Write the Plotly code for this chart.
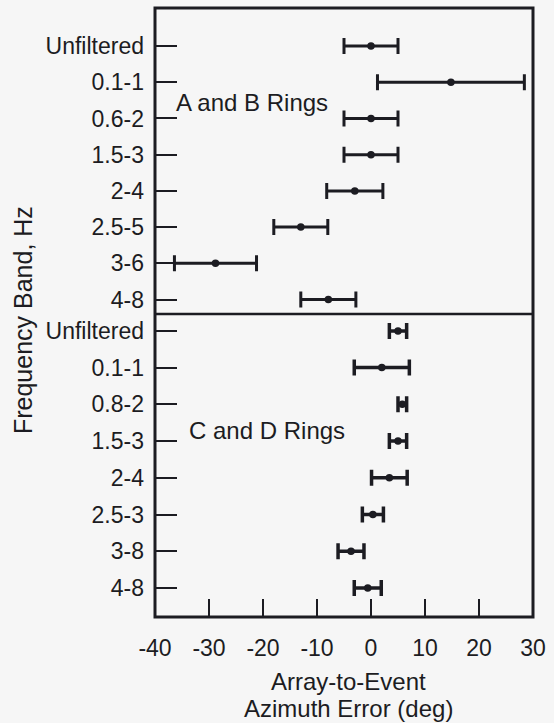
import plotly.graph_objects as go

# ---- data ----
top_labels = ["Unfiltered", "0.1-1", "0.6-2", "1.5-3", "2-4", "2.5-5", "3-6", "4-8"]
top_mean = [0, 14.8, 0, 0, -3, -13, -28.8, -7.9]
top_err = [5, 13.6, 5, 5, 5.2, 5, 7.6, 5.1]

bottom_labels = ["Unfiltered", "0.1-1", "0.8-2", "1.5-3", "2-4", "2.5-3", "3-8", "4-8"]
bottom_mean = [5, 2, 5.8, 5, 3.4, 0.35, -3.7, -0.6]
bottom_err = [1.6, 5.1, 0.8, 1.6, 3.3, 1.95, 2.4, 2.5]

x_ticks = [-40, -30, -20, -10, 0, 10, 20, 30]

INK = "#1c1c22"
BG = "#f6f6f6"
FONT = "Liberation Sans, Arial, Helvetica, sans-serif"

fig = go.Figure()

fig.add_trace(go.Scatter(
    x=top_mean, y=top_labels, xaxis="x", yaxis="y2", mode="markers",
    marker=dict(color=INK, size=7.5),
    error_x=dict(type="data", array=top_err, visible=True, color=INK, thickness=3, width=8),
    showlegend=False, cliponaxis=False,
))
fig.add_trace(go.Scatter(
    x=bottom_mean, y=bottom_labels, xaxis="x", yaxis="y", mode="markers",
    marker=dict(color=INK, size=7.5),
    error_x=dict(type="data", array=bottom_err, visible=True, color=INK, thickness=3.5, width=8),
    showlegend=False, cliponaxis=False,
))

split = (617 - 314) / 609.0

fig.update_layout(
    width=554, height=723,
    margin=dict(l=155, r=18, t=8, b=106),
    paper_bgcolor=BG, plot_bgcolor=BG,
    font=dict(family=FONT, size=23, color=INK),
    xaxis=dict(
        range=[-40, 30], tickvals=x_ticks, ticktext=[str(v) for v in x_ticks],
        ticks="inside", ticklen=18, tickwidth=2, tickcolor=INK,
        showgrid=False, zeroline=False, showline=False,
        anchor="y", ticklabelstandoff=15,
        tickfont=dict(size=23, color=INK),
    ),
    yaxis=dict(
        domain=[0, split], type="category",
        categoryorder="array", categoryarray=bottom_labels,
        range=[7.79, -0.46],
        ticks="inside", ticklen=22, tickwidth=1.5, tickcolor=INK,
        showgrid=False, zeroline=False, showline=False,
        anchor="x", ticklabelstandoff=10,
        tickfont=dict(size=23, color=INK),
    ),
    yaxis2=dict(
        domain=[split, 1], type="category",
        categoryorder="array", categoryarray=top_labels,
        range=[7.40, -1.05],
        ticks="inside", ticklen=22, tickwidth=1.5, tickcolor=INK,
        showgrid=False, zeroline=False, showline=False,
        anchor="x", ticklabelstandoff=10,
        tickfont=dict(size=23, color=INK),
    ),
    shapes=[
        dict(type="rect", xref="paper", yref="paper", x0=0, x1=1, y0=0, y1=1,
             line=dict(color=INK, width=3)),
        dict(type="line", xref="paper", yref="paper", x0=0, x1=1, y0=split, y1=split,
             line=dict(color=INK, width=2.5)),
    ],
    annotations=[
        dict(text="A and B Rings", xref="paper", yref="paper",
             x=(174 - 155) / 381.0, y=(617 - 102) / 609.0, xanchor="left", yanchor="middle",
             showarrow=False, font=dict(size=24, color=INK)),
        dict(text="C and D Rings", xref="paper", yref="paper",
             x=(187 - 155) / 381.0, y=(617 - 430) / 609.0, xanchor="left", yanchor="middle",
             showarrow=False, font=dict(size=24, color=INK)),
        dict(text="Array-to-Event", xref="paper", yref="paper",
             x=(350 - 155) / 381.0, y=(617 - 681) / 609.0, xanchor="center", yanchor="middle",
             showarrow=False, font=dict(size=24, color=INK)),
        dict(text="Azimuth Error (deg)", xref="paper", yref="paper",
             x=(350 - 155) / 381.0, y=(617 - 708) / 609.0, xanchor="center", yanchor="middle",
             showarrow=False, font=dict(size=24, color=INK)),
        dict(text="Frequency Band, Hz", xref="paper", yref="paper",
             x=(22 - 155) / 381.0, y=(617 - 320) / 609.0, xanchor="center", yanchor="middle",
             textangle=-90, showarrow=False, font=dict(size=25, color=INK)),
    ],
)

fig.write_html("out.html")
